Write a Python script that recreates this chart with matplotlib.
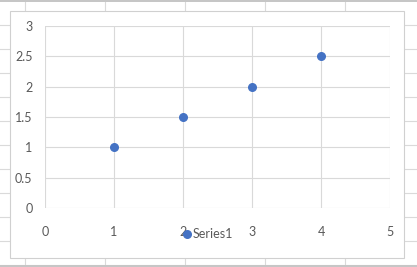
import matplotlib.pyplot as plt
from matplotlib.lines import Line2D
from matplotlib.patches import Rectangle

x = [1, 2, 3, 4]
y = [1, 1.5, 2, 2.5]
series_name = "Series1"
xticks = [0, 1, 2, 3, 4, 5]
yticks = [0, 0.5, 1, 1.5, 2, 2.5, 3]

W, H = 417, 267
plt.rcParams['font.family'] = ['Lato', 'DejaVu Sans']
fig = plt.figure(figsize=(W / 100, H / 100), dpi=100)

def fx(px):
    return px / W

def fy(py):
    return 1 - py / H

# spreadsheet grid behind the chart
cell = "#dadada"
for cx in [25, 105, 185, 265, 345]:
    fig.add_artist(Line2D([fx(cx), fx(cx)], [0, 1], color=cell, lw=0.8, zorder=-10))
for ry in range(25, 267, 24):
    fig.add_artist(Line2D([0, 1], [fy(ry), fy(ry)], color=cell, lw=0.8, zorder=-10))
fig.add_artist(Rectangle((0, fy(2)), 1, 2 / H, color="#c6c6c6", lw=0, zorder=-9))
fig.add_artist(Rectangle((0, 0), 1, 2 / H, color="#c6c6c6", lw=0, zorder=-9))

# chart area
fig.add_artist(Rectangle((fx(10), fy(258)), fx(404) - fx(10), fy(11) - fy(258),
                         facecolor="white", edgecolor="#d0d0d0", lw=0.8, zorder=-5))

ax = fig.add_axes([fx(45), fy(208), fx(390) - fx(45), fy(26) - fy(208)])
ax.set_zorder(1)
ax.patch.set_alpha(0)
ax.scatter(x, y, s=30, color="#4472c4", zorder=3, label=series_name)
ax.set_xlim(0, 5)
ax.set_ylim(0, 3)
ax.set_xticks(xticks)
ax.set_yticks(yticks)
ax.set_xticklabels([str(v) for v in xticks])
ax.set_yticklabels([f"{v:g}" for v in yticks])
ax.grid(True, color="#d9d9d9", lw=0.8)
ax.set_axisbelow(True)
for s in ax.spines.values():
    s.set_visible(False)
ax.tick_params(length=0, labelsize=9, labelcolor="#595959")
ax.tick_params(axis="x", pad=13)
ax.tick_params(axis="y", pad=9)

ax.legend(loc="center", bbox_to_anchor=(fx(207), fy(234)), bbox_transform=fig.transFigure,
          frameon=False, fontsize=9, labelcolor="#595959", handletextpad=0.0,
          handlelength=1.0, borderpad=0, scatteryoffsets=[0.5])

fig.savefig("out.png", dpi=100)
